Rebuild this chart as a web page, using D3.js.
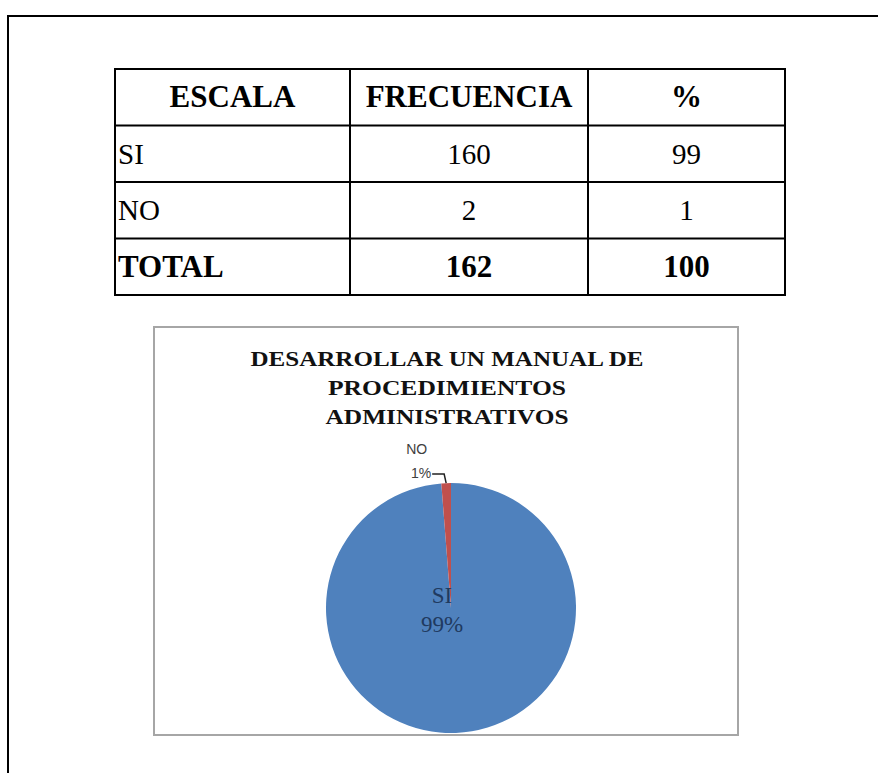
<!DOCTYPE html>
<html>
<head>
<meta charset="utf-8">
<script src="https://cdn.jsdelivr.net/npm/d3@7"></script>
<style>
  body { margin: 0; background: #fff; }
  svg { display: block; }
</style>
</head>
<body>
<div id="page"></div>
<script>
// table + chart data
var tableHeaders = ['ESCALA', 'FRECUENCIA', '%'];
var categories = ['SI', 'NO'];
var frequencies = [160, 2];
var percentages = [99, 1];
var totalLabel = 'TOTAL';
var titleLines = ['DESARROLLAR UN MANUAL DE', 'PROCEDIMIENTOS', 'ADMINISTRATIVOS'];
var sliceColors = ['#4f81bd', '#c0504d'];

var svgWidth = 878;
var svgHeight = 773;

var svg = d3.select('#page')
    .append('svg')
    .attr('width', svgWidth)
    .attr('height', svgHeight);

// page border (top + left only, the rest is cut off)
svg.append('path')
    .attr('d', 'M8,773 L8,16 L878,16')
    .attr('fill', 'none')
    .attr('stroke', '#000')
    .attr('stroke-width', 2);

// ---- table ----
var tableBox = { left: 115, right: 785, top: 69, bottom: 295 };
var colEdges = [tableBox.left, 350, 588, tableBox.right];

var rows = [tableHeaders]
    .concat(categories.map(function (c, i) { return [c, frequencies[i], percentages[i]]; }))
    .concat([[totalLabel, d3.sum(frequencies), d3.sum(percentages)]]);

var yRow = d3.scaleBand()
    .domain(d3.range(rows.length))
    .range([tableBox.top, tableBox.bottom]);

var table = svg.append('g');

table.selectAll('line.h')
    .data(d3.range(rows.length + 1))
    .enter()
    .append('line')
    .attr('x1', tableBox.left - 1)
    .attr('x2', tableBox.right + 1)
    .attr('y1', d => d < rows.length ? yRow(d) : tableBox.bottom)
    .attr('y2', d => d < rows.length ? yRow(d) : tableBox.bottom)
    .attr('stroke', '#000')
    .attr('stroke-width', 2);

table.selectAll('line.v')
    .data(colEdges)
    .enter()
    .append('line')
    .attr('x1', d => d)
    .attr('x2', d => d)
    .attr('y1', tableBox.top)
    .attr('y2', tableBox.bottom)
    .attr('stroke', '#000')
    .attr('stroke-width', 2);

rows.forEach(function (row, r) {
    var bold = (r === 0 || r === rows.length - 1);
    row.forEach(function (val, c) {
        var leftAlign = (c === 0 && r > 0);
        table.append('text')
            .attr('x', leftAlign ? colEdges[0] + 3 : (colEdges[c] + colEdges[c + 1]) / 2)
            .attr('y', yRow(r) + yRow.bandwidth() / 2 + 10)
            .attr('text-anchor', leftAlign ? 'start' : 'middle')
            .attr('font-family', '"Liberation Serif", "Times New Roman", serif')
            .attr('font-size', bold ? '31px' : '29px')
            .attr('font-weight', bold ? 'bold' : 'normal')
            .attr('fill', '#000')
            .text(val);
    });
});

// ---- pie chart ----
var chartBox = { left: 154, right: 738, top: 327, bottom: 735 };

svg.append('rect')
    .attr('x', chartBox.left)
    .attr('y', chartBox.top)
    .attr('width', chartBox.right - chartBox.left)
    .attr('height', chartBox.bottom - chartBox.top)
    .attr('fill', '#fff')
    .attr('stroke', '#a6a6a6')
    .attr('stroke-width', 2);

// the scanned title is a bit wide, so stretch each line to its width
var titleX = 447;
var titleWidths = [393, 238, 243];
svg.append('g').selectAll('text')
    .data(titleLines)
    .enter()
    .append('text')
    .attr('x', titleX)
    .attr('y', (d, i) => 366 + i * 29)
    .attr('text-anchor', 'middle')
    .attr('font-family', '"Liberation Serif", "Times New Roman", serif')
    .attr('font-weight', 'bold')
    .attr('font-size', '22px')
    .attr('textLength', (d, i) => titleWidths[i])
    .attr('lengthAdjust', 'spacingAndGlyphs')
    .attr('fill', '#111')
    .text(d => d);

var cx = 451, cy = 608, radius = 125;

var pie = d3.pie().sort(null);
var arcs = pie(frequencies);
var arc = d3.arc().innerRadius(0).outerRadius(radius);

var pieGroup = svg.append('g')
    .attr('transform', `translate(${cx}, ${cy})`);

pieGroup.selectAll('path')
    .data(arcs)
    .enter()
    .append('path')
    .attr('d', arc)
    .attr('fill', (d, i) => sliceColors[i]);

// label of the big slice, sits near the middle
var pct = frequencies.map(f => Math.round(f / d3.sum(frequencies) * 100));
var inside = pieGroup.append('text')
    .attr('text-anchor', 'middle')
    .attr('font-family', '"Liberation Serif", "Times New Roman", serif')
    .attr('font-size', '23px')
    .attr('fill', '#1f3a60');
inside.append('tspan').attr('x', -9).attr('y', -5).text(categories[0]);
inside.append('tspan').attr('x', -9).attr('y', 24).text(pct[0] + '%');

// label of the small slice, outside with leader line
var small = arcs[1];
var mid = (small.startAngle + small.endAngle) / 2;
var edge = [Math.sin(mid) * radius, -Math.cos(mid) * radius];
var elbow = [edge[0] - 2, edge[1] - 9];
var lineEnd = [elbow[0] - 12, elbow[1]];

pieGroup.append('path')
    .attr('d', `M${edge[0]},${edge[1]} L${elbow[0]},${elbow[1]} L${lineEnd[0]},${lineEnd[1]}`)
    .attr('fill', 'none')
    .attr('stroke', '#222')
    .attr('stroke-width', 1.5);

var outside = pieGroup.append('text')
    .attr('text-anchor', 'end')
    .attr('font-family', '"Liberation Sans", Arial, sans-serif')
    .attr('font-size', '14px')
    .attr('fill', '#404040');
outside.append('tspan').attr('x', lineEnd[0] - 5).attr('y', lineEnd[1] - 20).text(categories[1]);
outside.append('tspan').attr('x', lineEnd[0] - 1).attr('y', lineEnd[1] + 4).text(pct[1] + '%');
</script>
</body>
</html>
